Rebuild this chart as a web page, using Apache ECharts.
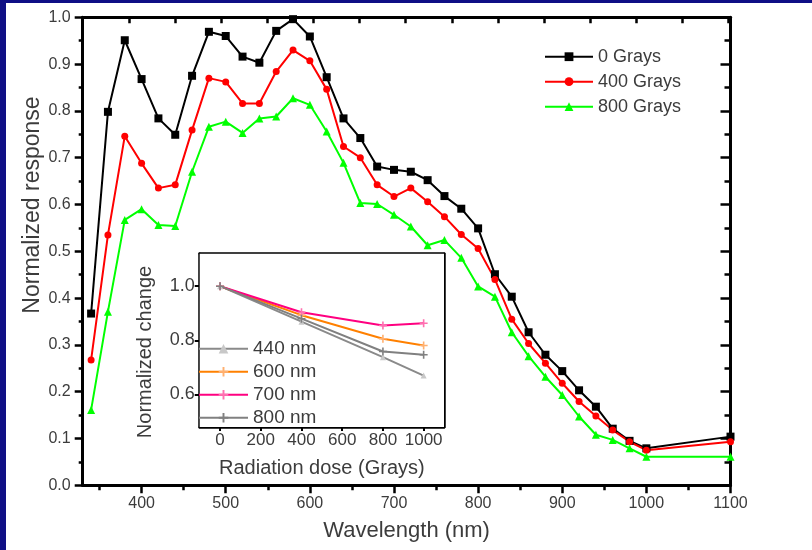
<!DOCTYPE html>
<html>
<head>
<meta charset="utf-8">
<script src="https://cdn.jsdelivr.net/npm/echarts@6/dist/echarts.min.js"></script>
<style>
  html, body { margin: 0; padding: 0; background: #fff; }
  #wrap { position: relative; width: 812px; height: 550px; }
  #chart { width: 812px; height: 550px; }
  .edge { position: absolute; background: #0f0f85; }
</style>
</head>
<body>
<div id="wrap">
  <div id="chart"></div>
  <div class="edge" style="left:0;top:0;width:6px;height:550px"></div>
  <div class="edge" style="left:0;top:0;width:812px;height:3px"></div>
</div>
<script>
// main plot: response vs wavelength
const wavelength = [340, 360, 380, 400, 420, 440, 460, 480, 500, 520, 540, 560, 580, 600, 620, 640, 660, 680, 700, 720,
  740, 760, 780, 800, 820, 840, 860, 880, 900, 920, 940, 960, 980, 1000, 1100];
const gray0 = [0.367, 0.798, 0.951, 0.868, 0.784, 0.749, 0.875, 0.969, 0.960, 0.916, 0.903, 0.971, 0.996, 0.959, 0.872, 0.784, 0.742, 0.681, 0.674, 0.670,
  0.652, 0.618, 0.591, 0.549, 0.451, 0.403, 0.327, 0.279, 0.244, 0.203, 0.168, 0.121, 0.095, 0.079, 0.104];
const gray400 = [0.268, 0.535, 0.746, 0.688, 0.635, 0.642, 0.759, 0.870, 0.862, 0.816, 0.816, 0.884, 0.930, 0.907, 0.846, 0.724, 0.700, 0.642, 0.617, 0.635,
  0.606, 0.574, 0.536, 0.506, 0.440, 0.355, 0.303, 0.261, 0.218, 0.179, 0.148, 0.118, 0.093, 0.075, 0.093];
const gray800 = [0.161, 0.371, 0.567, 0.590, 0.556, 0.554, 0.670, 0.766, 0.777, 0.753, 0.784, 0.788, 0.827, 0.813, 0.756, 0.689, 0.603, 0.601, 0.578, 0.553,
  0.513, 0.524, 0.486, 0.425, 0.403, 0.327, 0.276, 0.232, 0.193, 0.147, 0.108, 0.097, 0.079, 0.061, 0.061];
const xTicks = [400, 500, 600, 700, 800, 900, 1000, 1100];
const xMinorTicks = [350, 450, 550, 650, 750, 850, 950, 1050];

// inset: normalized change vs dose
const dose = [0, 400, 800, 1000];
const nm440 = [1.0, 0.869, 0.738, 0.670];
const nm600 = [1.0, 0.893, 0.806, 0.781];
const nm700 = [1.0, 0.904, 0.855, 0.863];
const nm800 = [1.0, 0.880, 0.759, 0.747];
const doseTicks = [0, 200, 400, 600, 800, 1000];
const changeTicks = [0.6, 0.8, 1.0];

const FONT = '"Liberation Sans", Arial, sans-serif';
const TXT = '#3c3c3c';
const PLUS = 'path://M0,4H10V6H0ZM4,0H6V10H4Z';

function pairs(xs, ys) {
  return xs.map((x, i) => [x, ys[i]]);
}

const chart = echarts.init(document.getElementById('chart'), null, { renderer: 'canvas' });

const axisBlack = { onZero: false, lineStyle: { color: '#000', width: 3 } };
const insetLine = { onZero: false, lineStyle: { color: '#000', width: 2.5 } };

const option = {
  animation: false,
  backgroundColor: '#fff',
  textStyle: { fontFamily: FONT },
  grid: [
    { left: 82.7, right: 81.5, top: 17.3, bottom: 64.7 },
    { left: 199.7, right: 368, top: 253.7, bottom: 123, show: true, backgroundColor: '#fff', borderWidth: 0, z: 5 }
  ],
  xAxis: [
    {
      gridIndex: 0, type: 'value', position: 'bottom', min: 330, max: 1100,
      axisLine: axisBlack,
      axisTick: { inside: false, length: 8, lineStyle: { width: 2.5, color: '#000' }, customValues: xTicks },
      axisLabel: { customValues: xTicks, margin: 10, fontSize: 16, color: TXT, fontFamily: FONT, formatter: v => String(v) },
      splitLine: { show: false },
      name: 'Wavelength (nm)', nameLocation: 'middle', nameGap: 35,
      nameTextStyle: { fontSize: 22, color: TXT, fontFamily: FONT }
    },
    {
      gridIndex: 0, type: 'value', position: 'bottom', min: 330, max: 1100,
      axisLine: { show: false, onZero: false },
      axisTick: { inside: false, length: 5, lineStyle: { width: 2.5, color: '#000' }, customValues: xMinorTicks },
      axisLabel: { show: false },
      splitLine: { show: false }
    },
    {
      gridIndex: 0, type: 'value', position: 'top', min: 0, max: 14.04, interval: 1,
      axisLine: axisBlack,
      axisTick: { inside: true, length: 6, lineStyle: { width: 2.5, color: '#000' } },
      axisLabel: { show: false },
      splitLine: { show: false }
    },
    {
      gridIndex: 1, type: 'value', position: 'bottom', min: -100, max: 1100,
      axisLine: insetLine,
      axisTick: { inside: false, length: 4, lineStyle: { width: 2, color: '#000' }, customValues: doseTicks },
      axisLabel: { customValues: doseTicks, margin: 5, fontSize: 17, color: TXT, fontFamily: FONT, formatter: v => String(v) },
      splitLine: { show: false },
      name: 'Radiation dose (Grays)', nameLocation: 'middle', nameGap: 31,
      nameTextStyle: { fontSize: 20, color: TXT, fontFamily: FONT }
    },
    {
      gridIndex: 1, type: 'value', position: 'top', min: -1, max: 9, interval: 1,
      axisLine: insetLine,
      axisTick: { inside: true, length: 4, lineStyle: { width: 2, color: '#000' } },
      axisLabel: { show: false },
      splitLine: { show: false }
    }
  ],
  yAxis: [
    {
      gridIndex: 0, type: 'value', position: 'left', min: 0, max: 1, interval: 0.1,
      axisLine: axisBlack,
      axisTick: { inside: false, length: 8, lineStyle: { width: 2.5, color: '#000' } },
      minorTick: { show: true, splitNumber: 2, length: 4, lineStyle: { width: 2.5, color: '#000' } },
      axisLabel: { margin: 12, fontSize: 16, color: TXT, fontFamily: FONT, formatter: v => v.toFixed(1) },
      splitLine: { show: false }
    },
    {
      gridIndex: 0, type: 'value', position: 'right', min: 0, max: 1, interval: 0.1,
      axisLine: axisBlack,
      axisTick: { inside: true, length: 10, lineStyle: { width: 2.5, color: '#000' } },
      minorTick: { show: true, splitNumber: 2, length: 6, lineStyle: { width: 2.5, color: '#000' } },
      axisLabel: { show: false },
      splitLine: { show: false }
    },
    {
      gridIndex: 1, type: 'value', position: 'left', min: 0.48, max: 1.12,
      axisLine: insetLine,
      axisTick: { inside: false, length: 5, lineStyle: { width: 2, color: '#000' }, customValues: changeTicks },
      axisLabel: { customValues: changeTicks, margin: 5, fontSize: 18, color: TXT, fontFamily: FONT, formatter: v => v.toFixed(1) },
      splitLine: { show: false }
    },
    {
      gridIndex: 1, type: 'value', position: 'right', min: 0, max: 5, interval: 1,
      axisLine: insetLine,
      axisTick: { inside: true, length: 5, lineStyle: { width: 2, color: '#000' } },
      axisLabel: { show: false },
      splitLine: { show: false }
    }
  ],
  legend: [
    {
      data: ['0 Grays', '400 Grays', '800 Grays'],
      orient: 'vertical', left: 544, top: 46.7, padding: 0,
      itemWidth: 48, itemHeight: 11, itemGap: 5,
      textStyle: { fontSize: 18, lineHeight: 20, color: TXT, fontFamily: FONT }
    },
    {
      data: ['440 nm', '600 nm', '700 nm', '800 nm'],
      orient: 'vertical', left: 198, top: 337.7, z: 10, padding: 0,
      itemWidth: 49, itemHeight: 12, itemGap: 1,
      textStyle: { fontSize: 19, lineHeight: 22, color: TXT, fontFamily: FONT }
    }
  ],
  graphic: [
    {
      type: 'text', x: 33, y: 205, rotation: Math.PI / 2,
      style: { text: 'Normalized response', font: '23px ' + FONT, fill: TXT,
        textAlign: 'center', textVerticalAlign: 'middle', align: 'center', verticalAlign: 'middle' }
    },
    {
      type: 'text', x: 145, y: 352, rotation: Math.PI / 2, z: 20,
      style: { text: 'Normalized change', font: '20px ' + FONT, fill: TXT,
        textAlign: 'center', textVerticalAlign: 'middle', align: 'center', verticalAlign: 'middle' }
    }
  ],
  series: [
    {
      name: '0 Grays', type: 'line', xAxisIndex: 0, yAxisIndex: 0,
      data: pairs(wavelength, gray0),
      symbol: 'rect', symbolSize: 8, showAllSymbol: true,
      lineStyle: { color: '#000', width: 2 }, itemStyle: { color: '#000' }
    },
    {
      name: '400 Grays', type: 'line', xAxisIndex: 0, yAxisIndex: 0,
      data: pairs(wavelength, gray400),
      symbol: 'circle', symbolSize: 7, showAllSymbol: true,
      lineStyle: { color: '#ff0000', width: 2 }, itemStyle: { color: '#ff0000' }
    },
    {
      name: '800 Grays', type: 'line', xAxisIndex: 0, yAxisIndex: 0,
      data: pairs(wavelength, gray800),
      symbol: 'triangle', symbolSize: 8, showAllSymbol: true,
      lineStyle: { color: '#00ff00', width: 2 }, itemStyle: { color: '#00ff00' }
    },
    {
      name: '440 nm', type: 'line', xAxisIndex: 3, yAxisIndex: 2, z: 8,
      data: pairs(dose, nm440),
      symbol: 'triangle', symbolSize: 6,
      lineStyle: { color: '#8a8a8a', width: 2 }, itemStyle: { color: '#c8c8c8' }
    },
    {
      name: '600 nm', type: 'line', xAxisIndex: 3, yAxisIndex: 2, z: 8,
      data: pairs(dose, nm600),
      symbol: PLUS, symbolSize: 8,
      lineStyle: { color: '#ff8000', width: 2 }, itemStyle: { color: '#ffb070' }
    },
    {
      name: '700 nm', type: 'line', xAxisIndex: 3, yAxisIndex: 2, z: 8,
      data: pairs(dose, nm700),
      symbol: PLUS, symbolSize: 8,
      lineStyle: { color: '#ff0080', width: 2 }, itemStyle: { color: '#ff70b0' }
    },
    {
      name: '800 nm', type: 'line', xAxisIndex: 3, yAxisIndex: 2, z: 8,
      data: pairs(dose, nm800),
      symbol: PLUS, symbolSize: 8,
      lineStyle: { color: '#808080', width: 2 }, itemStyle: { color: '#808080' }
    }
  ]
};

chart.setOption(option);
</script>
</body>
</html>
